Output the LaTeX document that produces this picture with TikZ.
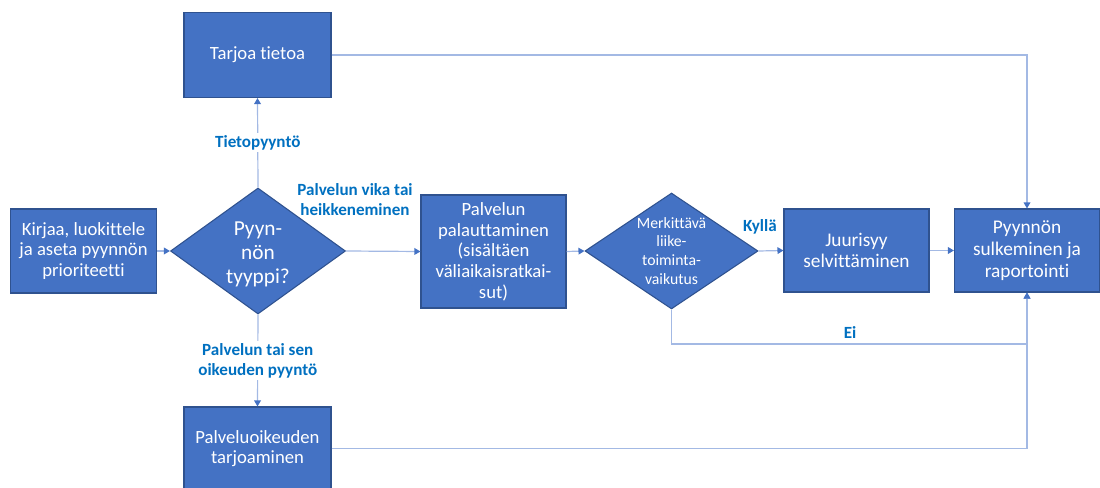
\documentclass[tikz,border=0pt]{standalone}
\usepackage{fontspec}
\setmainfont[Ligatures=CommonOff]{Carlito}
\usetikzlibrary{shapes.geometric,arrows.meta,calc}
\definecolor{boxfill}{HTML}{4472C4}
\definecolor{boxline}{HTML}{2F528F}
\definecolor{connc}{HTML}{A3B9E4}
\definecolor{tipc}{HTML}{4472C4}
\definecolor{lblc}{HTML}{0070C0}
\begin{document}
\begin{tikzpicture}[x=0.75pt,y=-0.75pt,
  box/.style={draw=boxline, line width=0.8pt, fill=boxfill, text=white, align=center, inner sep=0pt, font=\fontsize{14}{15.5}\selectfont},
  dia/.style={diamond, draw=boxline, fill=boxfill, line width=0.8pt, inner sep=0pt},
  dtext/.style={text=white, align=center, inner sep=0pt},
  conn/.style={draw=connc, line width=0.9pt, -{Triangle[length=4.5pt,width=5pt,color=tipc]}},
  lab/.style={text=lblc, font=\bfseries\fontsize{12.8}{15}\selectfont, align=center, fill=white, inner sep=1.5pt}]
\useasboundingbox (0,0) rectangle (1100,488);
% boxes
\node[box, minimum width=146*0.75pt, minimum height=84*0.75pt] (a) at (83.5,251) {Kirjaa, luokittele\\ja aseta pyynnön\\prioriteetti};
\node[box, minimum width=147*0.75pt, minimum height=85*0.75pt] (t) at (257.5,55) {Tarjoa tietoa};
\node[box, minimum width=147*0.75pt, minimum height=83*0.75pt] (p) at (257.5,448.5) {Palveluoikeuden\\tarjoaminen};
\node[box, minimum width=145*0.75pt, minimum height=113*0.75pt] (r) at (493.5,251.5) {Palvelun\\palauttaminen\\(sisältäen\\väliaikaisratkai-\\sut)};
\node[box, minimum width=145*0.75pt, minimum height=83*0.75pt, font=\fontsize{14.5}{16}\selectfont] (j) at (856.5,250.5) {Juurisyy\\selvittäminen};
\node[box, minimum width=145*0.75pt, minimum height=83*0.75pt, font=\fontsize{14.5}{16.5}\selectfont] (c) at (1027,250.5) {Pyynnön\\sulkeminen ja\\raportointi};
% diamonds
\node[dia, minimum width=175*0.75pt, minimum height=126*0.75pt] (d1) at (258,251) {};
\node[dtext, font=\fontsize{16}{18}\selectfont] (d1t) at (258,254) {Pyyn-\\nön\\tyyppi?};
\node[dia, minimum width=173*0.75pt, minimum height=116*0.75pt] (d2) at (671.5,251) {};
\node[dtext, font=\fontsize{11.8}{14.2}\selectfont] (d2t) at (671.5,251) {Merkittävä\\liike-\\toiminta-\\vaikutus};
% connectors
\draw[conn] (a.east) -- (d1.west);
\draw[conn] (d1.north) -- node[lab] (l1) {Tietopyyntö} (t.south);
\draw[conn] (d1.south) -- node[lab] (l2) {Palvelun tai sen\\oikeuden pyyntö} (p.north);
\draw[conn] (d1.east) -- (r.west);
\node[lab, fill=none] (l3) at (355,200) {Palvelun vika tai\\heikkeneminen};
\draw[conn] (r.east) -- (d2.west);
\draw[conn] (d2.east) -- (j.west);
\node[lab, fill=none] (l4) at (760,227) {Kyllä};
\draw[conn] (j.east) -- (c.west);
\draw[conn] (t.east) -| (c.north);
\coordinate (eij) at (1027,344);
\draw[conn] (d2.south) |- (eij) -- (c.south);
\node[lab, fill=none] (l5) at (850,333) {Ei};
\draw[conn] (p.east) -| (c.south);
\end{tikzpicture}
\end{document}
